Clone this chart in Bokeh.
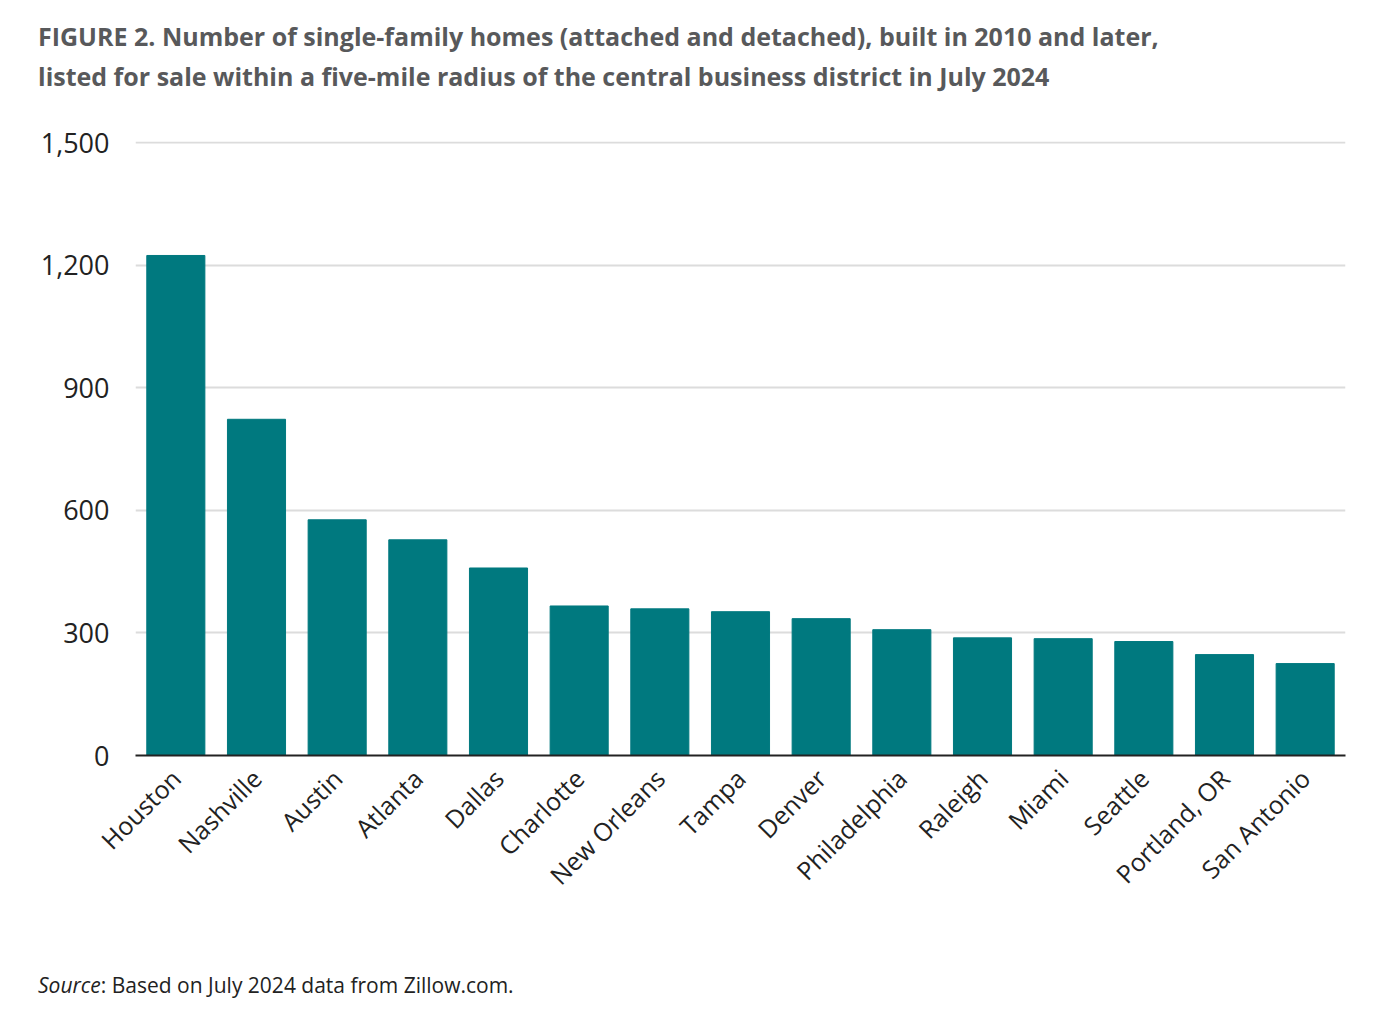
import math
from bokeh.plotting import figure
from bokeh.models import ColumnDataSource, NumeralTickFormatter, FixedTicker, Div
from bokeh.layouts import column
from bokeh.embed import file_html
from bokeh.resources import INLINE

cities = ["Houston", "Nashville", "Austin", "Atlanta", "Dallas", "Charlotte", "New Orleans",
          "Tampa", "Denver", "Philadelphia", "Raleigh", "Miami", "Seattle", "Portland, OR", "San Antonio"]
homes = [1224, 823, 577, 528, 459, 366, 359, 352, 335, 308, 288, 286, 279, 247, 225]
y_ticks = [0, 300, 600, 900, 1200, 1500]

FONT = "Open Sans"
grey = "#58595b"
src = ColumnDataSource(dict(city=cities, homes=homes))

title = Div(text="FIGURE 2. Number of single-family homes (attached and detached), built in 2010 and later,<br>"
                 "listed for sale within a five-mile radius of the central business district in July 2024",
            width=1366, height=125, margin=0,
            styles={"font-family": FONT, "font-weight": "bold", "font-size": "25px",
                    "line-height": "40px", "color": grey, "padding-top": "16px", "padding-left": "38px",
                    "white-space": "nowrap"})

p = figure(x_range=cities, y_range=(0, 1503), width=1366, height=845,
           output_backend="svg", toolbar_location=None, margin=0,
           min_border_left=135, min_border_right=21, min_border_top=16, min_border_bottom=215)
p.vbar(x="city", top="homes", width=0.72, source=src, color="#00797f")
p.outline_line_color = None
p.xgrid.grid_line_color = None
p.ygrid.grid_line_color = "#dcdcdc"
p.ygrid.grid_line_width = 2
p.yaxis.ticker = FixedTicker(ticks=y_ticks)
p.yaxis.formatter = NumeralTickFormatter(format="0,0")
p.yaxis.axis_line_color = None
p.yaxis.major_tick_line_color = None
p.yaxis.minor_tick_line_color = None
p.yaxis.major_label_text_font = FONT
p.yaxis.major_label_text_font_size = "27px"
p.yaxis.major_label_text_color = "#222222"
p.yaxis.major_label_standoff = 20
p.xaxis.axis_line_color = "#222222"
p.xaxis.axis_line_width = 2
p.xaxis.major_tick_line_color = None
p.xaxis.major_label_orientation = math.pi / 4
p.xaxis.major_label_text_font = FONT
p.xaxis.major_label_text_font_size = "25px"
p.xaxis.major_label_text_color = "#222222"
p.xaxis.major_label_standoff = 12

source = Div(text="<i>Source</i>: Based on July 2024 data from Zillow.com.",
             width=1366, height=40, margin=0,
             styles={"font-family": FONT, "font-size": "21px", "line-height": "30px",
                     "color": "#222222", "padding-left": "38px"})

open("out.html", "w").write(file_html(column(title, p, source, spacing=0), INLINE))
